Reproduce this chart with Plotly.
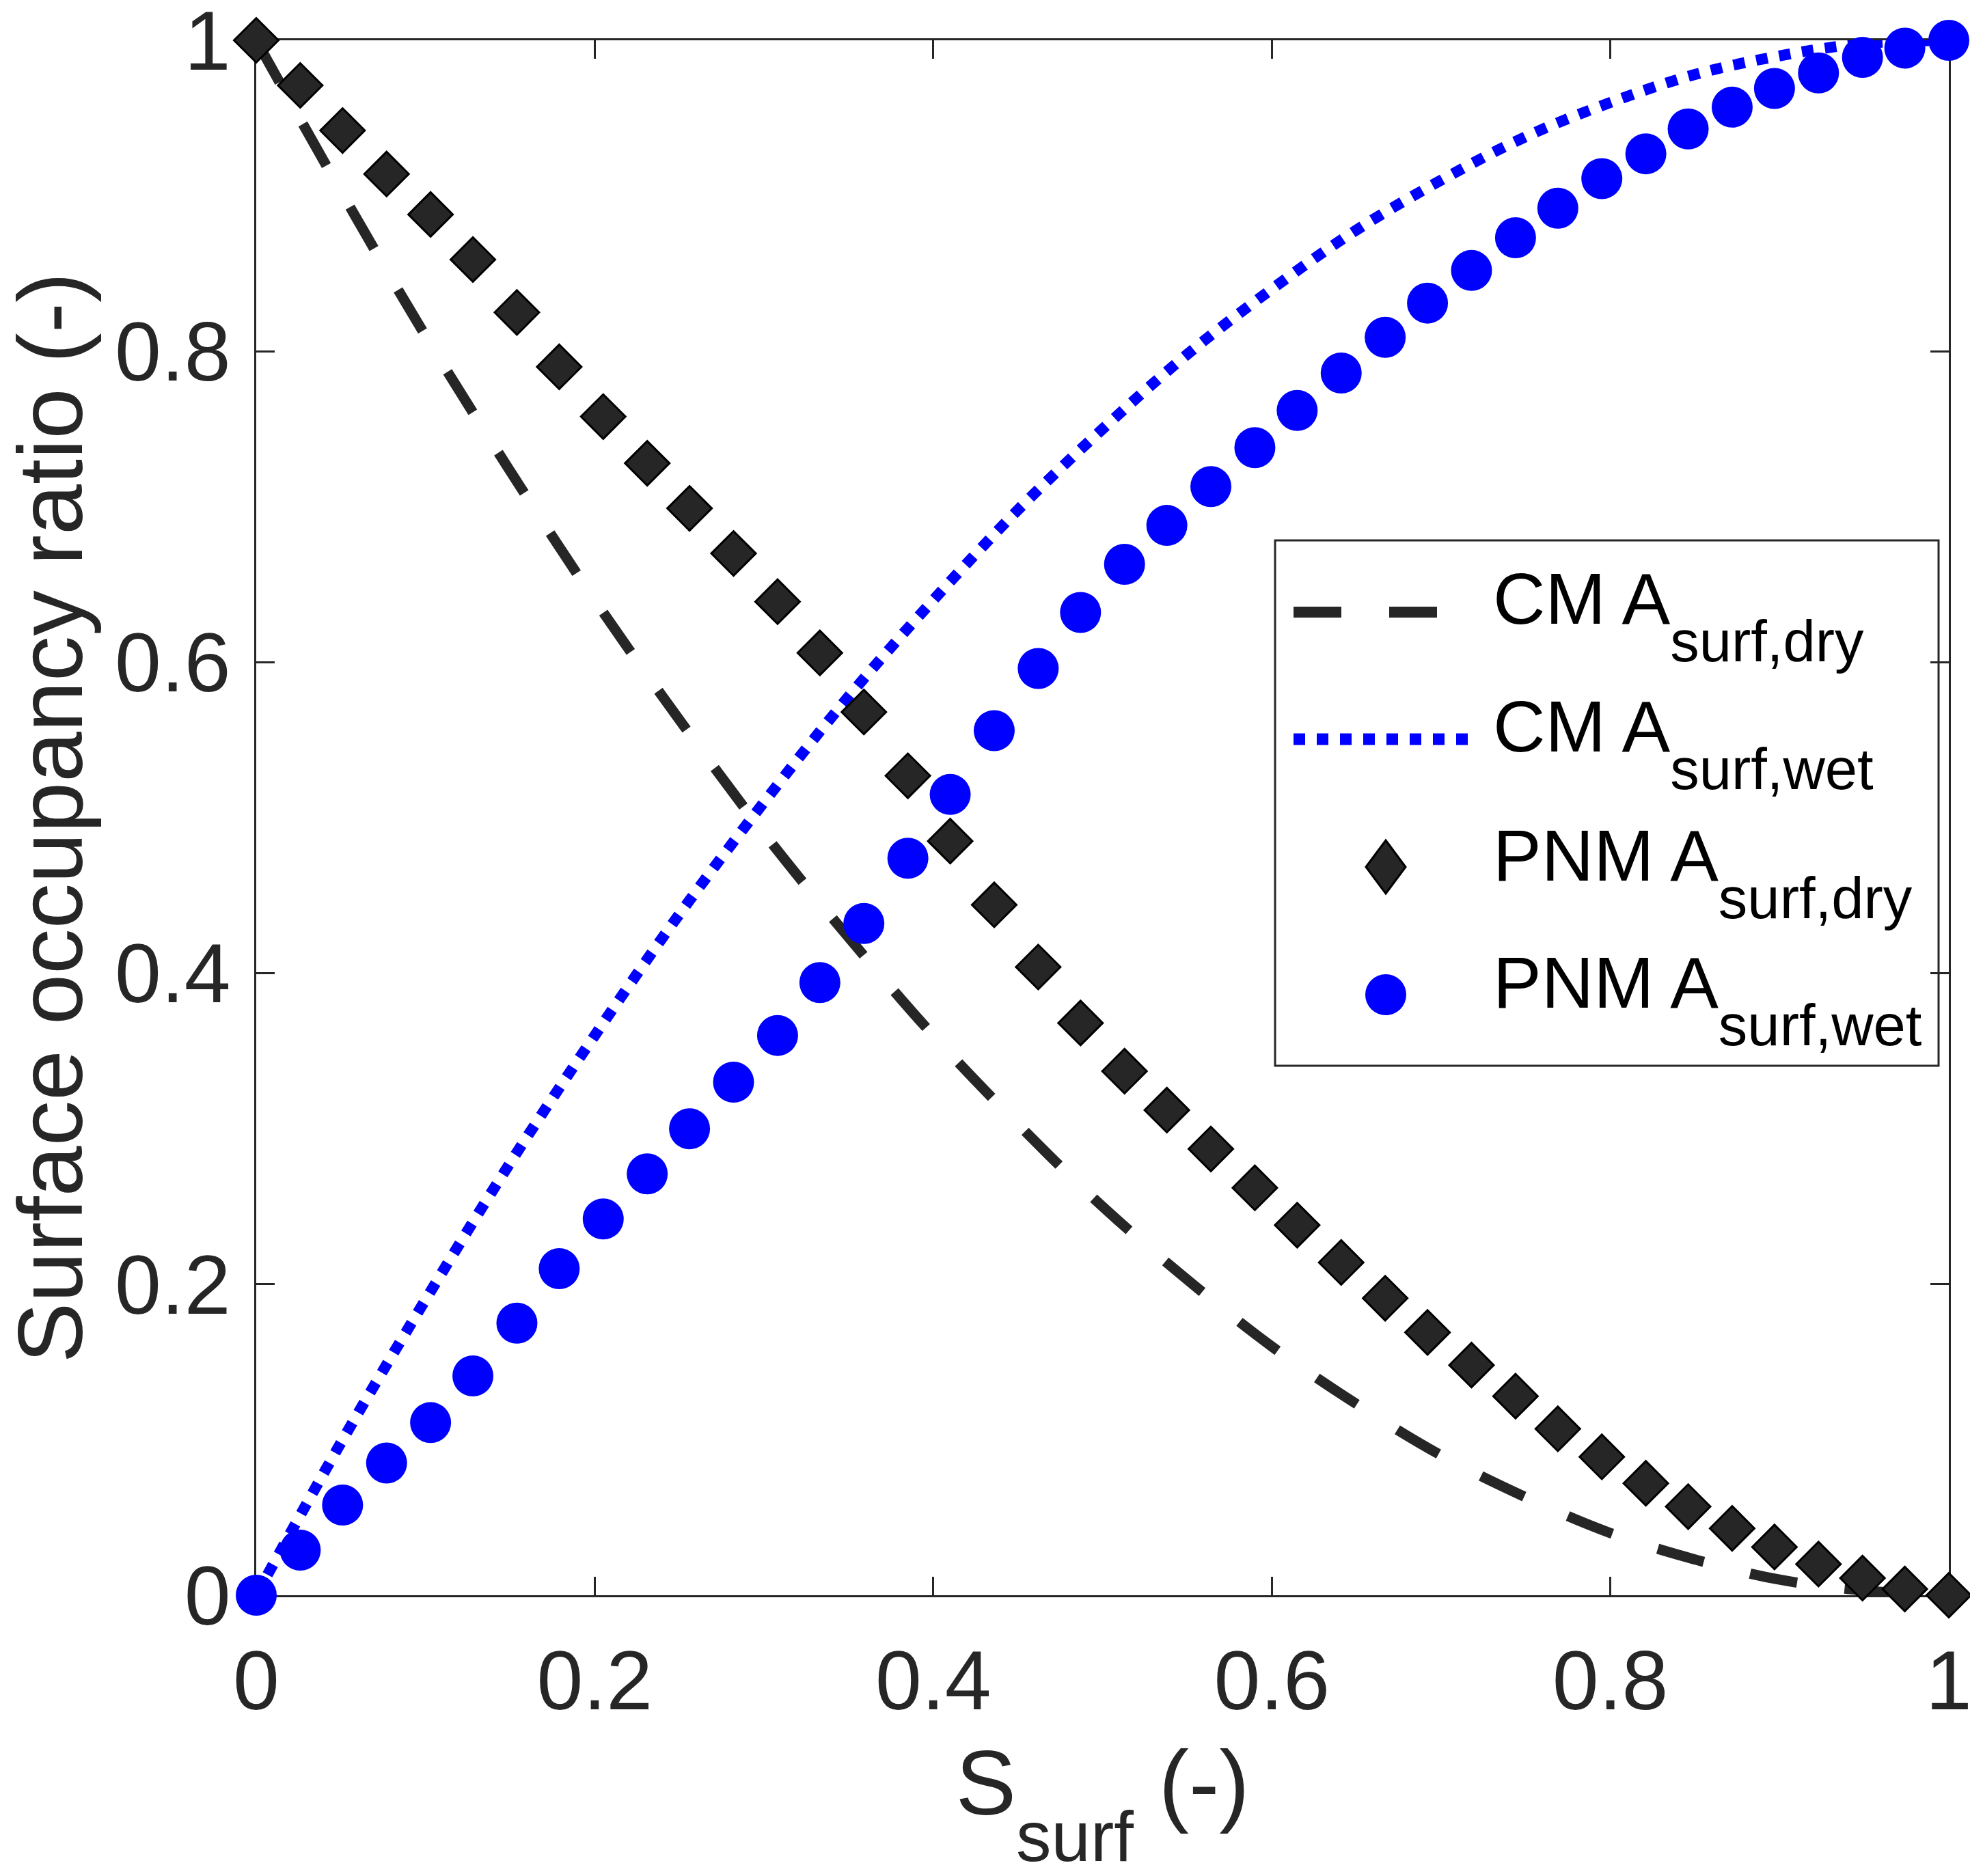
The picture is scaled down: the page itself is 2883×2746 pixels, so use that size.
import plotly.graph_objects as go

# ---------------- data ----------------
s_pnm = [0.000, 0.026, 0.051, 0.077, 0.103, 0.128, 0.154, 0.179, 0.205, 0.231,
         0.256, 0.282, 0.308, 0.333, 0.359, 0.385, 0.410, 0.436, 0.462, 0.487,
         0.513, 0.538, 0.564, 0.590, 0.615, 0.641, 0.667, 0.692, 0.718, 0.744,
         0.769, 0.795, 0.821, 0.846, 0.872, 0.897, 0.923, 0.949, 0.974, 1.000]
pnm_dry = [1.000, 0.971, 0.942, 0.914, 0.888, 0.859, 0.825, 0.790, 0.758, 0.728,
           0.699, 0.670, 0.639, 0.606, 0.568, 0.527, 0.485, 0.444, 0.404, 0.368,
           0.337, 0.312, 0.287, 0.262, 0.238, 0.214, 0.191, 0.169, 0.148, 0.128,
           0.107, 0.089, 0.072, 0.057, 0.043, 0.031, 0.020, 0.011, 0.004, 0.000]
pnm_wet = [0.000, 0.029, 0.058, 0.085, 0.111, 0.141, 0.175, 0.210, 0.242, 0.271,
           0.300, 0.330, 0.360, 0.394, 0.432, 0.474, 0.515, 0.556, 0.596, 0.632,
           0.663, 0.688, 0.713, 0.738, 0.762, 0.786, 0.809, 0.831, 0.852, 0.873,
           0.892, 0.911, 0.927, 0.943, 0.957, 0.969, 0.979, 0.989, 0.995, 1.000]

s_cm = [0.00, 0.05, 0.10, 0.15, 0.20, 0.25, 0.30, 0.35, 0.40, 0.45, 0.50,
        0.55, 0.60, 0.65, 0.70, 0.75, 0.80, 0.85, 0.90, 0.95, 1.00]
cm_dry = [1.000, 0.903, 0.810, 0.723, 0.640, 0.563, 0.490, 0.423, 0.360, 0.303, 0.250,
          0.203, 0.160, 0.123, 0.090, 0.063, 0.040, 0.023, 0.010, 0.003, 0.000]
cm_wet = [0.000, 0.098, 0.190, 0.278, 0.360, 0.438, 0.510, 0.578, 0.640, 0.698, 0.750,
          0.798, 0.840, 0.878, 0.910, 0.938, 0.960, 0.978, 0.990, 0.998, 1.000]

tick_vals = [0, 0.2, 0.4, 0.6, 0.8, 1]
tick_text = ["0", "0.2", "0.4", "0.6", "0.8", "1"]

legend_labels = ["CM A", "CM A", "PNM A", "PNM A"]
legend_subs = ["surf,dry", "surf,wet", "surf,dry", "surf,wet"]

# ---------------- styling ----------------
FONT = "Liberation Sans, Arial, Helvetica, sans-serif"
DARK = "#262626"
BLUE = "#0000FF"
W, H = 2883, 2746
ML, MR, MT, MB = 375, 31, 59, 411
PW, PH = W - ML - MR, H - MT - MB


def px(xpix):
    return (xpix - ML) / PW


def py(ypix):
    return (H - MB - ypix) / PH


fig = go.Figure()

fig.add_trace(go.Scatter(x=s_cm, y=cm_dry, mode="lines", name="CM A surf,dry",
                         line=dict(color=DARK, width=15, dash="70px,70px", shape="spline"),
                         showlegend=False, cliponaxis=False))
fig.add_trace(go.Scatter(x=s_cm, y=cm_wet, mode="lines", name="CM A surf,wet",
                         line=dict(color=BLUE, width=16, dash="17px,17px", shape="spline"),
                         showlegend=False, cliponaxis=False))
fig.add_trace(go.Scatter(x=s_pnm, y=pnm_dry, mode="markers", name="PNM A surf,dry",
                         marker=dict(symbol="diamond", size=50, color=DARK,
                                     line=dict(color="black", width=3)),
                         showlegend=False, cliponaxis=False))
fig.add_trace(go.Scatter(x=s_pnm, y=pnm_wet, mode="markers", name="PNM A surf,wet",
                         marker=dict(symbol="circle", size=60, color=BLUE,
                                     line=dict(width=0)),
                         showlegend=False, cliponaxis=False))

axis_common = dict(
    range=[-1e-7, 1 + 1e-7], tickvals=tick_vals, ticktext=tick_text,
    showline=True, linewidth=3, linecolor=DARK, mirror="ticks",
    ticks="inside", ticklen=27, tickwidth=3, tickcolor=DARK,
    showgrid=False, zeroline=False, layer="below traces",
    ticklabeloverflow="allow",
    tickfont=dict(family=FONT, size=122, color=DARK),
)

fig.update_xaxes(**axis_common, ticklabelstandoff=18,
                 title=dict(text="S<sub><span style='font-size:103px;baseline-shift:-40px'>surf</span></sub> (-)",
                            font=dict(family=FONT, size=133, color=DARK), standoff=82))
fig.update_yaxes(**axis_common, ticklabelstandoff=10,
                 title=dict(text="Surface occupancy ratio (-)",
                            font=dict(family=FONT, size=133, color=DARK), standoff=30))

# ---------------- custom legend ----------------
shapes = []
shapes.append(dict(type="rect", xref="paper", yref="paper",
                   x0=px(1866), x1=px(2837), y0=py(1560), y1=py(791),
                   line=dict(color=DARK, width=3), fillcolor="white", layer="below"))
shapes.append(dict(type="line", xref="paper", yref="paper",
                   x0=px(1893), x1=px(2153), y0=py(896), y1=py(896),
                   line=dict(color=DARK, width=16, dash="70px,70px")))
shapes.append(dict(type="line", xref="paper", yref="paper",
                   x0=px(1893), x1=px(2153), y0=py(1082), y1=py(1082),
                   line=dict(color=BLUE, width=17, dash="17px,17px")))
shapes.append(dict(type="path", xref="paper", yref="paper",
                   xsizemode="pixel", ysizemode="pixel",
                   xanchor=px(2028), yanchor=py(1269),
                   path="M -29 0 L 0 39 L 29 0 L 0 -39 Z",
                   fillcolor=DARK, line=dict(color="black", width=3)))
shapes.append(dict(type="circle", xref="paper", yref="paper",
                   xsizemode="pixel", ysizemode="pixel",
                   xanchor=px(2028), yanchor=py(1456),
                   x0=-30, x1=30, y0=-30, y1=30,
                   fillcolor=BLUE, line=dict(width=0)))

annotations = []
row_y = [875, 1061, 1250, 1436]
for lab, sub, yy in zip(legend_labels, legend_subs, row_y):
    annotations.append(dict(
        xref="paper", yref="paper", x=px(2183), y=py(yy), yshift=-27,
        xanchor="left", yanchor="middle", showarrow=False,
        text=f"{lab}<sub><span style='font-size:85px;baseline-shift:-33px'>{sub}</span></sub>",
        font=dict(family=FONT, size=106, color="black"), align="left"))

fig.update_layout(
    width=W, height=H,
    margin=dict(l=ML, r=MR, t=MT, b=MB, autoexpand=False),
    paper_bgcolor="white", plot_bgcolor="white",
    showlegend=False,
    shapes=shapes, annotations=annotations,
    font=dict(family=FONT, color=DARK),
)

fig.write_html("out.html", config={"displayModeBar": False},
               post_script="document.body.style.margin='0px';")
